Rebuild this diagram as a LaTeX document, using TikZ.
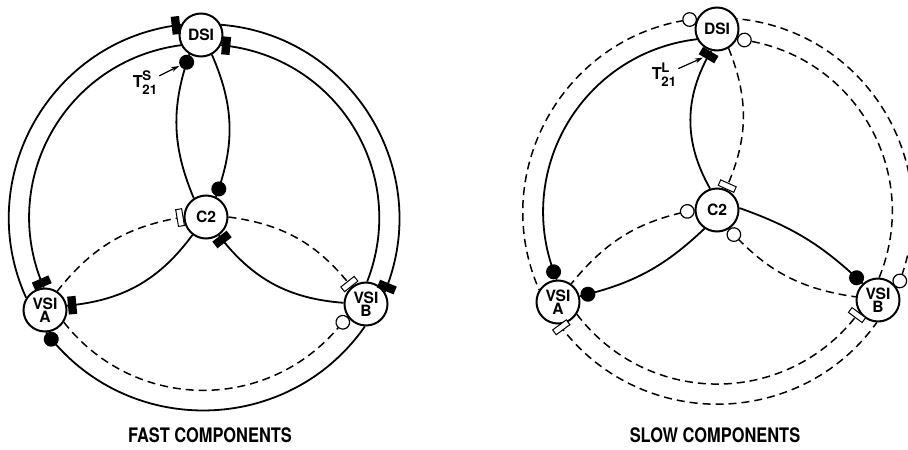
\documentclass[tikz,border=0pt]{standalone}
\usepackage{fontspec}
\setmainfont{TeX Gyre Heros}
\usepackage{graphicx}
\usepackage{tikz}
\usetikzlibrary{positioning,arrows.meta}

% T with raised letter and lowered 21
\newcommand{\tlab}[1]{T\kern-0.2pt\makebox[0pt][l]{\raisebox{3.4pt}{\fontsize{6.6}{6.6}\selectfont #1}}\raisebox{-3.6pt}{\fontsize{6.6}{6.6}\selectfont 21}}

\begin{document}
\begin{tikzpicture}[
  x=0.5pt, y=0.5pt,
  every node/.style={inner sep=0pt},
  station/.style={circle, draw, line width=1pt, fill=white, minimum size=21.5pt,
                  font=\fontsize{7.8}{6.6}\selectfont\bfseries, align=center},
  wire/.style={line width=0.9pt},
  dwire/.style={line width=0.75pt, dash pattern=on 4pt off 2.5pt},
  rim/.style={bend right=54, looseness=1.07},
  rimin/.style={bend right=53, looseness=1.07},
  tick/.style={sloped, allow upside down, inner sep=0pt, solid},
  blkdot/.style={tick, circle, fill=black, minimum size=7.5pt},
  opendot/.style={tick, circle, fill=white, draw, line width=0.6pt, minimum size=6.8pt},
  blkbar/.style={tick, rectangle, fill=black, minimum width=4.2pt, minimum height=9pt},
  openbar/.style={tick, rectangle, fill=white, draw, line width=0.5pt, minimum width=3pt, minimum height=8.5pt},
  atstart/.style={pos=0, anchor=west},
  atend/.style={pos=1, anchor=east},
  tlabel/.style={font=\fontsize{8.2}{8.2}\selectfont\bfseries},
  pointer/.style={line width=0.6pt, -{Stealth[length=4pt, width=2.5pt]}, shorten <=1pt},
  caption/.style={font=\fontsize{10}{12}\selectfont\bfseries}
]
\useasboundingbox (0,0) rectangle (908,-449);

% fast components
\node[station] (dsiL) at (201,-35) {DSI};
\node[station] (ctwoL) at (206,-217) {C2};
\node[station] (vsiaL) at (45,-310) {VSI\\A};
\node[station] (vsibL) at (366,-304) {VSI\\B};

\draw[wire] (dsiL.153) to[rim] node[blkbar, atstart] {} (vsiaL.147);
\draw[wire] (dsiL.207) to[rimin] node[blkbar, atend] {} (vsiaL.93);
\draw[wire] (vsiaL.273) to[rim] node[blkdot, atstart] {} (vsibL.267);
\draw[dwire] (vsiaL.327) to[rimin] node[opendot, atend] {} (vsibL.213);
\draw[wire] (vsibL.33) to[rim] node[blkbar, atstart] {} (dsiL.27);
\draw[wire] (vsibL.87) to[rimin] node[blkbar, atend] {} (dsiL.333);

\draw[wire] (dsiL.239) to[bend right=21] node[blkdot, atstart] (tsdot) {} (ctwoL.123);
\draw[wire] (dsiL.299) to[bend left=22] node[blkdot, atend] {} (ctwoL.64);
\draw[wire] (ctwoL.233) to[bend left=24] node[blkbar, atend] {} (vsiaL.11);
\draw[dwire] (ctwoL.180) to[bend right=21] node[openbar, atstart] {} (vsiaL.57);
\draw[wire] (ctwoL.305) to[bend right=24] node[blkbar, atstart] {} (vsibL.177);
\draw[dwire] (ctwoL.0) to[bend left=22] node[openbar, atend] {} (vsibL.130);

\node[tlabel] (tsL) at (145,-83) {\tlab{S}};
\draw[pointer] (tsL) -- (tsdot);

\node[caption] (fastcap) at (210,-435) {\scalebox{0.82}[1]{FAST COMPONENTS}};

% slow components
\node[station] (dsiR) at (717,-29) {DSI};
\node[station] (ctwoR) at (717,-210) {C2};
\node[station] (vsiaR) at (558,-302) {VSI\\A};
\node[station] (vsibR) at (878,-300) {VSI\\B};

\draw[dwire] (dsiR.153) to[rim] node[opendot, atstart] {} (vsiaR.147);
\draw[wire] (dsiR.207) to[rimin] node[blkdot, atend] {} (vsiaR.93);
\draw[dwire] (vsiaR.273) to[rim] node[openbar, atstart] {} (vsibR.267);
\draw[dwire] (vsiaR.327) to[rimin] node[openbar, atend] {} (vsibR.213);
\draw[dwire] (vsibR.33) to[rim] node[opendot, atstart] {} (dsiR.27);
\draw[dwire] (vsibR.87) to[rimin] node[opendot, atend] {} (dsiR.333);

\draw[wire] (dsiR.255) to[bend right=30] node[blkbar, atstart] (tlbar) {} (ctwoR.108);
\draw[dwire] (dsiR.301) to[bend left=23] node[openbar, atend] {} (ctwoR.67);
\draw[wire] (ctwoR.236) to[bend left=15] node[blkdot, atend] {} (vsiaR.15);
\draw[dwire] (ctwoR.180) to[bend right=20] node[opendot, atstart] {} (vsiaR.54);
\draw[wire] (ctwoR.5) to[bend left=12] node[blkdot, atend] {} (vsibR.133);
\draw[dwire] (ctwoR.302) to[bend right=20] node[opendot, atstart] {} (vsibR.172);

\node[tlabel] (tlR) at (664,-75) {\tlab{L}};
\draw[pointer] (tlR) -- (tlbar);

\node[caption] (slowcap) at (715,-435) {\scalebox{0.82}[1]{SLOW COMPONENTS}};
\end{tikzpicture}
\end{document}
